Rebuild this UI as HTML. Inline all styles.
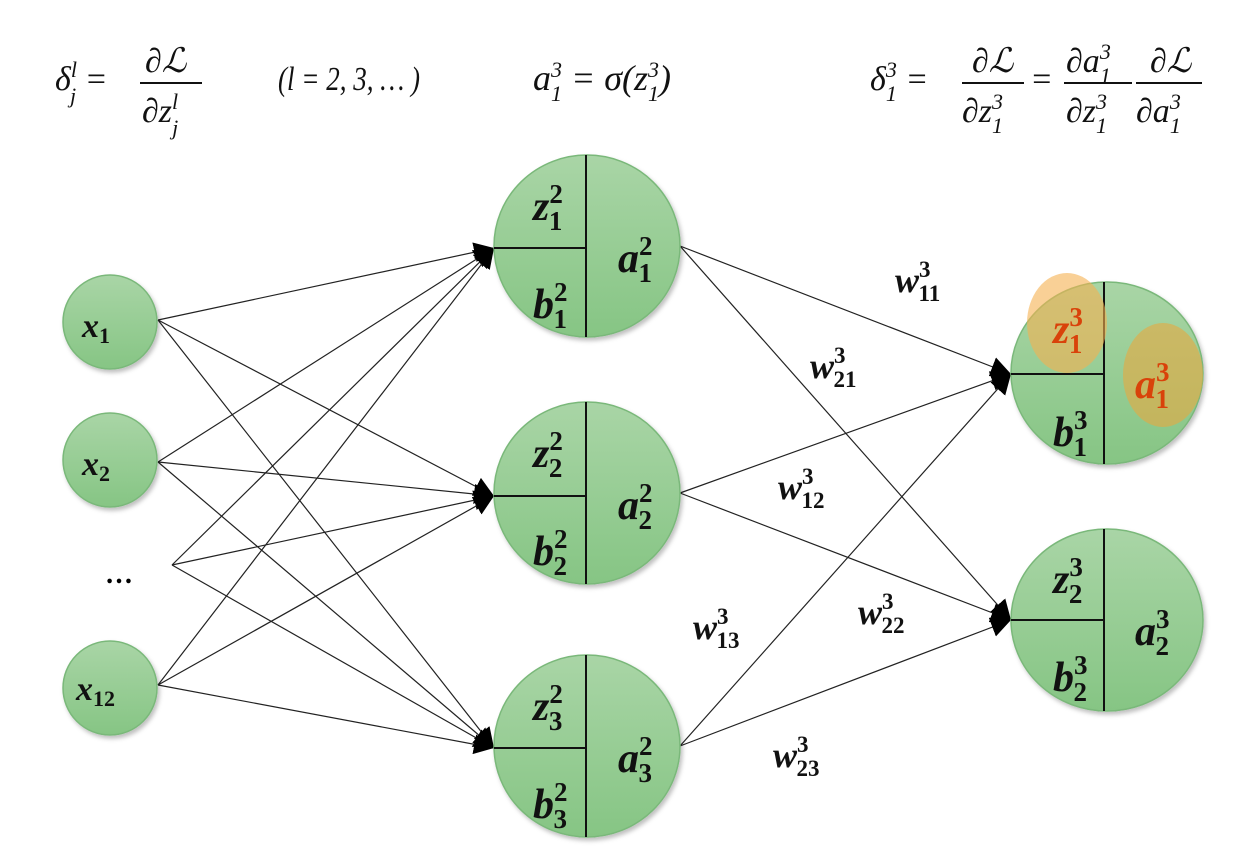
<!DOCTYPE html>
<html><head><meta charset="utf-8"><style>
html,body{margin:0;padding:0;background:#fff;}
svg{display:block;}
text{font-family:"Liberation Serif","DejaVu Serif",serif;}
.b{font-weight:bold;font-style:italic;font-size:42px;fill:#111;}
.s{font-weight:bold;font-size:27px;font-style:normal;}
.f{font-style:italic;font-size:34px;fill:#111;font-family:"Liberation Serif",serif;}
.fs{font-size:22px;font-style:italic;}
</style></head><body>
<svg width="1250" height="860" viewBox="0 0 1250 860" xmlns="http://www.w3.org/2000/svg">
<defs>
<linearGradient id="g" x1="0" y1="0" x2="0" y2="1">
<stop offset="0" stop-color="#a9d5a6"/><stop offset="1" stop-color="#86c584"/></linearGradient>
<marker id="ar" viewBox="0 0 10 10" refX="10" refY="5" markerWidth="20" markerHeight="20" markerUnits="userSpaceOnUse" orient="auto">
<path d="M0,0 L10,5 L0,10 z" fill="#000"/></marker>
<filter id="sh" x="-20%" y="-20%" width="140%" height="140%"><feDropShadow dx="2" dy="3" stdDeviation="2" flood-opacity="0.25"/></filter>
</defs>

<g class="f">
<text x="55" y="90">δ<tspan class="fs" dy="-13">l</tspan><tspan class="fs" dx="-7" dy="26">j</tspan><tspan dy="-13"> =</tspan></text>
<text x="145" y="72">∂ℒ</text>
<line x1="140" y1="83" x2="202" y2="83" stroke="#111" stroke-width="2"/>
<text x="142" y="122">∂z<tspan class="fs" dy="-13">l</tspan><tspan class="fs" dx="-6" dy="26">j</tspan></text>
<text x="278" y="90" style="font-size:34px" textLength="142" lengthAdjust="spacingAndGlyphs">(l = 2, 3, … )</text>

<text x="533" y="90" style="font-size:36px">a<tspan class="fs" dy="-13">3</tspan><tspan class="fs" dx="-11" dy="24">1</tspan><tspan dy="-11"> = σ(z</tspan><tspan class="fs" dy="-13">3</tspan><tspan class="fs" dx="-11" dy="24">1</tspan><tspan dy="-11">)</tspan></text>

<text x="870" y="90">δ<tspan class="fs" dy="-13">3</tspan><tspan class="fs" dx="-11" dy="24">1</tspan><tspan dy="-11"> =</tspan></text>
<text x="972" y="72">∂ℒ</text>
<line x1="962" y1="83" x2="1024" y2="83" stroke="#111" stroke-width="2"/>
<text x="962" y="122">∂z<tspan class="fs" dy="-13">3</tspan><tspan class="fs" dx="-11" dy="24">1</tspan></text>
<text x="1030" y="90">=</text>
<line x1="1064" y1="83" x2="1132" y2="83" stroke="#111" stroke-width="2"/>
<line x1="1136" y1="83" x2="1202" y2="83" stroke="#111" stroke-width="2"/>
<text x="1066" y="72">∂a<tspan class="fs" dy="-13">3</tspan><tspan class="fs" dx="-11" dy="24">1</tspan></text>
<text x="1066" y="122">∂z<tspan class="fs" dy="-13">3</tspan><tspan class="fs" dx="-11" dy="24">1</tspan></text>
<text x="1150" y="72">∂ℒ</text>
<text x="1136" y="122">∂a<tspan class="fs" dy="-13">3</tspan><tspan class="fs" dx="-11" dy="24">1</tspan></text>
</g>

<g stroke="#222" stroke-width="1.2" fill="none" marker-end="url(#ar)">
<line x1="158" y1="320" x2="494" y2="248"/>
<line x1="158" y1="320" x2="494" y2="496"/>
<line x1="158" y1="320" x2="494" y2="748"/>
<line x1="158" y1="462" x2="494" y2="248"/>
<line x1="158" y1="462" x2="494" y2="496"/>
<line x1="158" y1="462" x2="494" y2="748"/>
<line x1="172" y1="565" x2="494" y2="248"/>
<line x1="172" y1="565" x2="494" y2="496"/>
<line x1="172" y1="565" x2="494" y2="748"/>
<line x1="158" y1="685" x2="494" y2="248"/>
<line x1="158" y1="685" x2="494" y2="496"/>
<line x1="158" y1="685" x2="494" y2="748"/>
<line x1="680" y1="246" x2="1011" y2="374"/>
<line x1="680" y1="246" x2="1011" y2="620"/>
<line x1="680" y1="493" x2="1011" y2="374"/>
<line x1="680" y1="493" x2="1011" y2="620"/>
<line x1="680" y1="746" x2="1011" y2="374"/>
<line x1="680" y1="746" x2="1011" y2="620"/>
</g>

<g fill="url(#g)" stroke="#7ab87a" stroke-width="1.5" filter="url(#sh)">
<circle cx="110" cy="322" r="47"/>
<circle cx="110" cy="460" r="47"/>
<circle cx="110" cy="688" r="47"/>
</g>
<text class="b" x="82" y="337" style="font-size:34px">x<tspan class="s" style="font-size:22px" dy="6">1</tspan></text>
<text class="b" x="82" y="475" style="font-size:34px">x<tspan class="s" style="font-size:22px" dy="6">2</tspan></text>
<text class="b" x="76" y="700" style="font-size:34px">x<tspan class="s" style="font-size:22px" dy="6">12</tspan></text>
<text x="105" y="583" style="font-size:28px;font-weight:bold">…</text>

<g fill="url(#g)" stroke="#7ab87a" stroke-width="1.5" filter="url(#sh)">
<ellipse cx="587" cy="246" rx="93" ry="91"/>
<ellipse cx="587" cy="493" rx="93" ry="91"/>
<ellipse cx="587" cy="746" rx="93" ry="91"/>
<ellipse cx="1107" cy="373" rx="96" ry="91"/>
<ellipse cx="1107" cy="620" rx="96" ry="91"/>
</g>
<g stroke="#111" stroke-width="2">
<line x1="586" y1="155" x2="586" y2="337"/><line x1="494" y1="248" x2="586" y2="248"/>
<line x1="586" y1="402" x2="586" y2="584"/><line x1="494" y1="496" x2="586" y2="496"/>
<line x1="586" y1="655" x2="586" y2="837"/><line x1="494" y1="748" x2="586" y2="748"/>
<line x1="1104" y1="282" x2="1104" y2="464"/><line x1="1011" y1="374" x2="1104" y2="374"/>
<line x1="1104" y1="529" x2="1104" y2="711"/><line x1="1011" y1="620" x2="1104" y2="620"/>
</g>
<ellipse cx="1067" cy="323" rx="40" ry="50" fill="#f5b050" fill-opacity="0.6"/>
<ellipse cx="1163" cy="375" rx="40" ry="52" fill="#e8a840" fill-opacity="0.6"/>

<g class="b">
<text x="533" y="220">z<tspan class="s" dy="-17">2</tspan><tspan class="s" dx="-14" dy="27">1</tspan></text>
<text x="533" y="318">b<tspan class="s" dy="-17">2</tspan><tspan class="s" dx="-14" dy="27">1</tspan></text>
<text x="618" y="272">a<tspan class="s" dy="-17">2</tspan><tspan class="s" dx="-14" dy="27">1</tspan></text>
<text x="533" y="467">z<tspan class="s" dy="-17">2</tspan><tspan class="s" dx="-14" dy="27">2</tspan></text>
<text x="533" y="565">b<tspan class="s" dy="-17">2</tspan><tspan class="s" dx="-14" dy="27">2</tspan></text>
<text x="618" y="519">a<tspan class="s" dy="-17">2</tspan><tspan class="s" dx="-14" dy="27">2</tspan></text>
<text x="533" y="720">z<tspan class="s" dy="-17">2</tspan><tspan class="s" dx="-14" dy="27">3</tspan></text>
<text x="533" y="818">b<tspan class="s" dy="-17">2</tspan><tspan class="s" dx="-14" dy="27">3</tspan></text>
<text x="618" y="772">a<tspan class="s" dy="-17">2</tspan><tspan class="s" dx="-14" dy="27">3</tspan></text>

<text x="1053" y="343" style="fill:#d9420a">z<tspan class="s" dy="-17">3</tspan><tspan class="s" dx="-14" dy="27">1</tspan></text>
<text x="1053" y="446">b<tspan class="s" dy="-17">3</tspan><tspan class="s" dx="-14" dy="27">1</tspan></text>
<text x="1135" y="398" style="fill:#d9420a">a<tspan class="s" dy="-17">3</tspan><tspan class="s" dx="-14" dy="27">1</tspan></text>
<text x="1053" y="593">z<tspan class="s" dy="-17">3</tspan><tspan class="s" dx="-14" dy="27">2</tspan></text>
<text x="1053" y="691">b<tspan class="s" dy="-17">3</tspan><tspan class="s" dx="-14" dy="27">2</tspan></text>
<text x="1135" y="645">a<tspan class="s" dy="-17">3</tspan><tspan class="s" dx="-14" dy="27">2</tspan></text>

<text x="895" y="292" style="font-size:36px">w<tspan class="s" style="font-size:23px" dy="-15">3</tspan><tspan class="s" style="font-size:23px" dx="-12" dy="24">11</tspan></text>
<text x="810" y="378" style="font-size:36px">w<tspan class="s" style="font-size:23px" dy="-15">3</tspan><tspan class="s" style="font-size:23px" dx="-12" dy="24">21</tspan></text>
<text x="778" y="499" style="font-size:36px">w<tspan class="s" style="font-size:23px" dy="-15">3</tspan><tspan class="s" style="font-size:23px" dx="-12" dy="24">12</tspan></text>
<text x="858" y="624" style="font-size:36px">w<tspan class="s" style="font-size:23px" dy="-15">3</tspan><tspan class="s" style="font-size:23px" dx="-12" dy="24">22</tspan></text>
<text x="693" y="639" style="font-size:36px">w<tspan class="s" style="font-size:23px" dy="-15">3</tspan><tspan class="s" style="font-size:23px" dx="-12" dy="24">13</tspan></text>
<text x="773" y="767" style="font-size:36px">w<tspan class="s" style="font-size:23px" dy="-15">3</tspan><tspan class="s" style="font-size:23px" dx="-12" dy="24">23</tspan></text>
</g>
</svg>
</body></html>
